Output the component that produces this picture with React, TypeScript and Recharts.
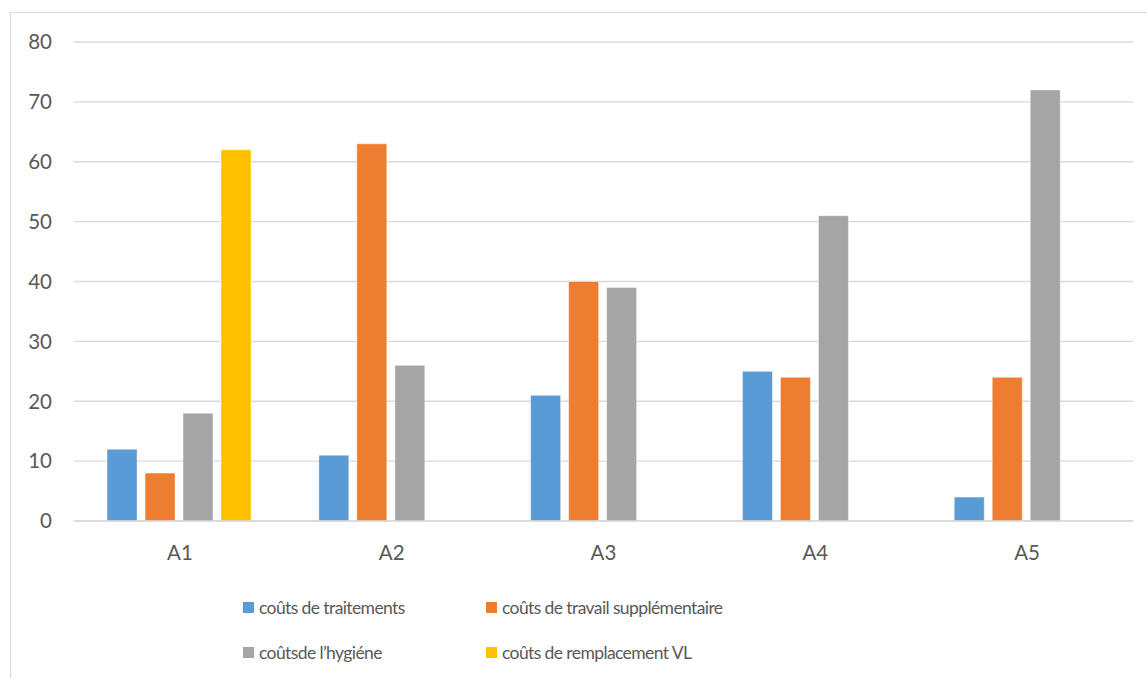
import React from "react";
import {
    BarChart,
    Bar,
    XAxis,
    YAxis,
    CartesianGrid
} from "recharts";

const categories = ["A1", "A2", "A3", "A4", "A5"];
const traitements = [12, 11, 21, 25, 4];
const travailSupp = [8, 63, 40, 24, 24];
const hygiene = [18, 26, 39, 51, 72];
const remplacement = [62, 0, 0, 0, 0];
const yTicks = [0, 10, 20, 30, 40, 50, 60, 70, 80];

const series = [
    { key: "traitements", name: "coûts de traitements", color: "#5B9BD5" },
    { key: "travailSupp", name: "coûts de travail supplémentaire", color: "#ED7D31" },
    { key: "hygiene", name: "coûtsde l’hygiéne", color: "#A5A5A5" },
    { key: "remplacement", name: "coûts de remplacement VL", color: "#FFC000" }
];

const dados = categories.map((c, i) => ({
    cat: c,
    traitements: traitements[i],
    travailSupp: travailSupp[i],
    hygiene: hygiene[i],
    remplacement: remplacement[i]
}));

const FONT = "Lato, 'Open Sans', sans-serif";
const TEXT = "#595959";
const GRID = "#d9d9d9";

function Legende() {
    return (
        <div
            style={{
                position: "absolute",
                left: 232,
                top: 581,
                display: "grid",
                gridTemplateColumns: "243px 320px",
                rowGap: 19,
                fontFamily: FONT,
                fontSize: 17.5,
                letterSpacing: -0.6,
                color: TEXT
            }}
        >
            {series.map((s) => (
                <div key={s.key} style={{ display: "flex", alignItems: "center", height: 26 }}>
                    <span
                        style={{
                            width: 11,
                            height: 11,
                            background: s.color,
                            display: "inline-block",
                            marginRight: 5
                        }}
                    />
                    <span>{s.name}</span>
                </div>
            ))}
        </div>
    );
}

export default function App() {
    return (
        <div
            style={{
                position: "absolute",
                left: 10,
                top: 12,
                width: 1150,
                height: 680,
                border: "1px solid #d9d9d9",
                background: "#fff"
            }}
        >
            <BarChart
                width={1136}
                height={665}
                data={dados}
                margin={{ top: 29, right: 14, bottom: 117, left: 13 }}
                barCategoryGap="15.6%"
                barGap={8}
            >
                <CartesianGrid vertical={false} stroke={GRID} strokeWidth={1.3} />
                <XAxis
                    dataKey="cat"
                    axisLine={{ stroke: GRID, strokeWidth: 1.3 }}
                    tickLine={false}
                    tickSize={0}
                    tickMargin={24}
                    height={40}
                    tick={{ fill: TEXT, fontSize: 20.5, fontFamily: FONT }}
                />
                <YAxis
                    domain={[0, 80]}
                    ticks={yTicks}
                    axisLine={false}
                    tickLine={false}
                    tickSize={0}
                    tickMargin={22}
                    width={50}
                    tick={{ fill: TEXT, fontSize: 20.5, fontFamily: FONT }}
                />
                {series.map((s) => (
                    <Bar
                        key={s.key}
                        dataKey={s.key}
                        name={s.name}
                        fill={s.color}
                        stroke="rgba(255,255,255,0.45)"
                        strokeWidth={1}
                        isAnimationActive={false}
                    />
                ))}
            </BarChart>
            <Legende />
        </div>
    );
}
